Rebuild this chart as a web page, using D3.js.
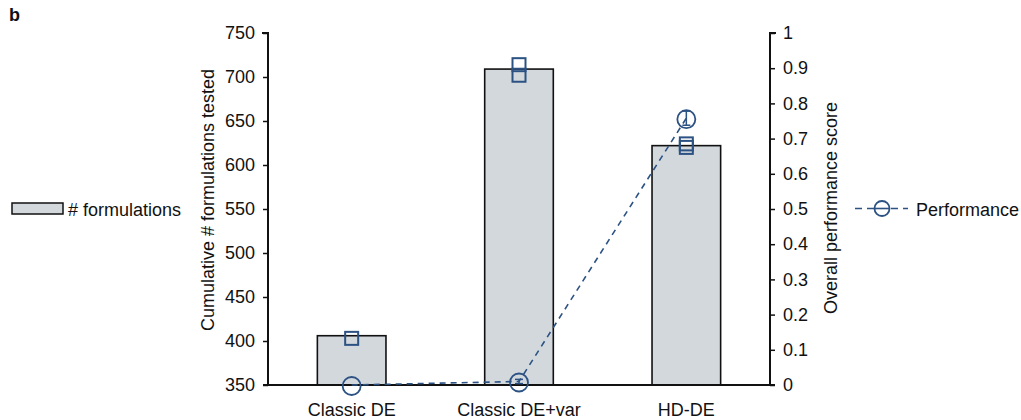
<!DOCTYPE html>
<html>
<head>
<meta charset="utf-8">
<script src="https://cdn.jsdelivr.net/npm/d3@7"></script>
<style>
  html, body { margin: 0; padding: 0; background: #fff; }
  svg text { font-family: "Liberation Sans", Arial, Helvetica, sans-serif; fill: #111; }
</style>
</head>
<body>
<svg id="chart" width="1021" height="420"></svg>
<script>
// Methods compared
const categories = ["Classic DE", "Classic DE+var", "HD-DE"];
// Cumulative number of formulations tested (bars)
const formulations = [406, 709, 622];
// Replicate markers drawn on each bar
const formulationMarks = [[403], [714, 702], [624, 620]];
// Overall performance score (dashed line) and its spread
const performance = [0, 0.01, 0.758];
const performanceErr = [0, 0.006, 0.02];
// Tick labels
const leftTicks = [350, 400, 450, 500, 550, 600, 650, 700, 750];
const rightTicks = [0, 0.1, 0.2, 0.3, 0.4, 0.5, 0.6, 0.7, 0.8, 0.9, 1];

const svg = d3.select("#chart");
const plotL = 268, plotR = 770, plotT = 33, plotB = 385;
const blue = "#2b5283";
const barFill = "#d3d8dd";
const fs = "18px";

const x = d3.scaleBand().domain(categories).range([plotL, plotR]).paddingInner(0.59).paddingOuter(0.295);
const yL = d3.scaleLinear().domain([350, 750]).range([plotB, plotT]);
const yR = d3.scaleLinear().domain([0, 1]).range([plotB, plotT]);

// Bars
svg.append("g").selectAll("rect").data(categories).join("rect")
  .attr("x", d => x(d)).attr("width", x.bandwidth())
  .attr("y", (d, i) => yL(formulations[i]))
  .attr("height", (d, i) => plotB - yL(formulations[i]))
  .attr("fill", barFill).attr("stroke", "#111").attr("stroke-width", 1.6);

// Axes
const axL = svg.append("g").attr("transform", `translate(${plotL},0)`)
  .call(d3.axisLeft(yL).tickValues(leftTicks).tickSize(5).tickPadding(8).tickFormat(d3.format("d")));
const axR = svg.append("g").attr("transform", `translate(${plotR},0)`)
  .call(d3.axisRight(yR).tickValues(rightTicks).tickSize(5).tickPadding(8).tickFormat(d => d3.format("~g")(d)));
[axL, axR].forEach(ax => {
  ax.select(".domain").attr("stroke", "#111").attr("stroke-width", 2);
  ax.selectAll(".tick line").attr("stroke", "#111").attr("stroke-width", 1.5);
  ax.selectAll(".tick text").style("font-size", fs).attr("fill", "#111");
});
axL.select(".domain").attr("d", `M-6,${plotT}H0V${plotB}`);
axR.select(".domain").attr("d", `M6,${plotT}H0V${plotB}`);

// Baseline
const axB = svg.append("g").attr("transform", `translate(0,${plotB})`)
  .call(d3.axisBottom(x).tickSize(0).tickPadding(18));
axB.select(".domain").attr("d", `M${plotL - 5},0H${plotR + 5}`).attr("stroke", "#111").attr("stroke-width", 1.8);
axB.selectAll(".tick text").style("font-size", fs).attr("fill", "#111");

// Replicate markers on bars
const sq = 13;
categories.forEach((c, i) => {
  const cx = x(c) + x.bandwidth() / 2;
  svg.append("g").selectAll("rect").data(formulationMarks[i]).join("rect")
    .attr("x", cx - sq / 2).attr("y", d => yL(d) - sq / 2)
    .attr("width", sq).attr("height", sq)
    .attr("fill", "none").attr("stroke", blue).attr("stroke-width", 2);
});

// Performance line
const cxs = categories.map(c => x(c) + x.bandwidth() / 2);
svg.append("path")
  .datum(performance)
  .attr("d", d3.line().x((d, i) => cxs[i]).y(d => yR(d)))
  .attr("fill", "none").attr("stroke", blue).attr("stroke-width", 1.6)
  .attr("stroke-dasharray", "6,5");

// Error bars for performance
performance.forEach((v, i) => {
  const e = performanceErr[i];
  if (!e) return;
  const g = svg.append("g").attr("stroke", blue).attr("stroke-width", 1.5);
  g.append("line").attr("x1", cxs[i]).attr("x2", cxs[i]).attr("y1", yR(v - e)).attr("y2", yR(v + e));
  g.append("line").attr("x1", cxs[i] - 4).attr("x2", cxs[i] + 4).attr("y1", yR(v - e)).attr("y2", yR(v - e));
  g.append("line").attr("x1", cxs[i] - 4).attr("x2", cxs[i] + 4).attr("y1", yR(v + e)).attr("y2", yR(v + e));
});

// Performance markers
svg.append("g").selectAll("circle").data(performance).join("circle")
  .attr("cx", (d, i) => cxs[i]).attr("cy", d => yR(d) + 1).attr("r", 9)
  .attr("fill", "none").attr("stroke", blue).attr("stroke-width", 1.8);

// Axis titles
svg.append("text").attr("transform", `translate(214,200) rotate(-90)`)
  .attr("text-anchor", "middle").style("font-size", fs).text("Cumulative # formulations tested");
svg.append("text").attr("transform", `translate(837,208) rotate(-90)`)
  .attr("text-anchor", "middle").style("font-size", fs).text("Overall performance score");

// Panel letter
svg.append("text").attr("x", 9).attr("y", 21).style("font-size", "18px").style("font-weight", "bold").text("b");

// Legends
svg.append("rect").attr("x", 12).attr("y", 203).attr("width", 51).attr("height", 11)
  .attr("fill", barFill).attr("stroke", "#111").attr("stroke-width", 1.5);
svg.append("text").attr("x", 68).attr("y", 216).style("font-size", fs).text("# formulations");

svg.append("line").attr("x1", 855).attr("x2", 908).attr("y1", 208.5).attr("y2", 208.5)
  .attr("stroke", blue).attr("stroke-width", 1.6).attr("stroke-dasharray", "7,5");
svg.append("circle").attr("cx", 882).attr("cy", 208.5).attr("r", 7.5)
  .attr("fill", "#fff").attr("stroke", blue).attr("stroke-width", 1.8);
svg.append("line").attr("x1", 874).attr("x2", 890).attr("y1", 208.5).attr("y2", 208.5)
  .attr("stroke", blue).attr("stroke-width", 1.6);
svg.append("text").attr("x", 916).attr("y", 216).style("font-size", fs).text("Performance");
</script>
</body>
</html>
